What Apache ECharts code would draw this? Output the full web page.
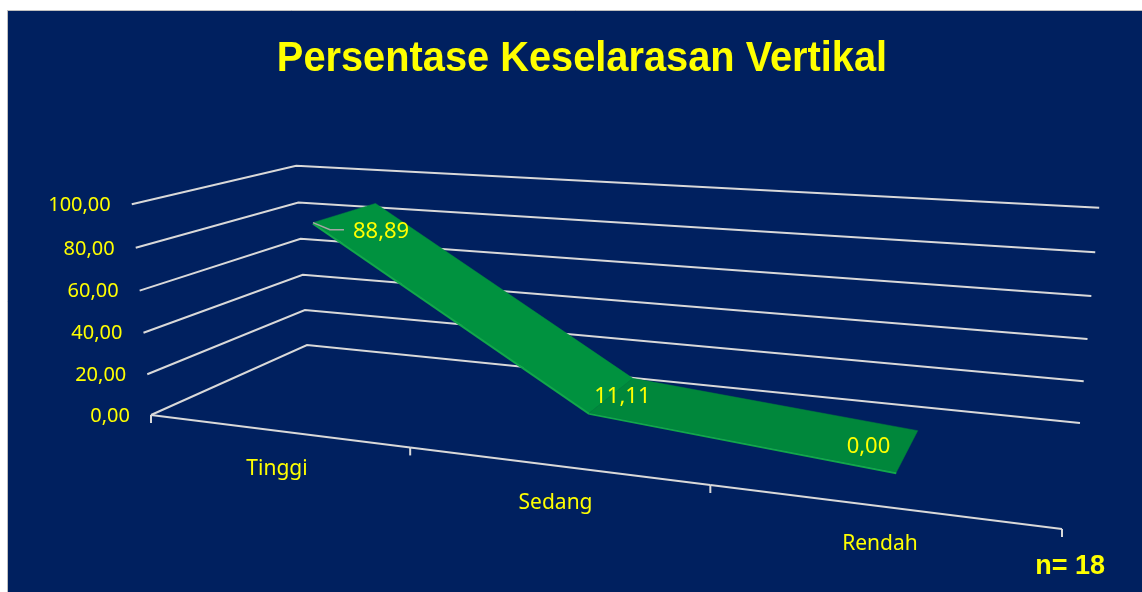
<!DOCTYPE html>
<html>
<head>
<meta charset="utf-8">
<title>Persentase Keselarasan Vertikal</title>
<script src="https://cdn.jsdelivr.net/npm/echarts@6/dist/echarts.min.js"></script>
<style>
  html, body { margin: 0; padding: 0; background: #fff; }
  #main { width: 1142px; height: 592px; }
</style>
</head>
<body>
<div id="main"></div>
<script>
// data
var categories = ['Tinggi', 'Sedang', 'Rendah'];
var values = [88.89, 11.11, 0.00];
var valueLabels = ['88,89', '11,11', '0,00'];
var yTicks = [0, 20, 40, 60, 80, 100];
var yMax = 100;

// perspective frame of the 3d box (screen px): floor corners and wall tops
var FL = [151, 415], FR = [1062, 529], BR = [1080, 423], BL = [307, 345];
var TOP_FL = [131, 204], TOP_BL = [297, 165], TOP_BR = [1099, 209];
// depth of the ribbon (0 = front, 1 = back wall)
var W_FRONT = 0.3, W_BACK = 0.73;

var NAVY = '#00205F';
var YELLOW = '#FFFF00';
var GRIDC = '#D9D9D9';

// square -> quad homography for the floor
function squareToQuad(p0, p1, p2, p3) {
    var dx1 = p1[0] - p2[0], dx2 = p3[0] - p2[0], dx3 = p0[0] - p1[0] + p2[0] - p3[0];
    var dy1 = p1[1] - p2[1], dy2 = p3[1] - p2[1], dy3 = p0[1] - p1[1] + p2[1] - p3[1];
    var den = dx1 * dy2 - dx2 * dy1;
    var g = (dx3 * dy2 - dx2 * dy3) / den;
    var h = (dx1 * dy3 - dx3 * dy1) / den;
    return {
        a: p1[0] - p0[0] + g * p1[0], b: p3[0] - p0[0] + h * p3[0], c: p0[0],
        d: p1[1] - p0[1] + g * p1[1], e: p3[1] - p0[1] + h * p3[1], f: p0[1],
        g: g, h: h
    };
}
var H = squareToQuad(FL, FR, BR, BL);

function floorH(u, w) {
    return [H.a * u + H.b * w + H.c, H.d * u + H.e * w + H.f, H.g * u + H.h * w + 1];
}

// vertical column of the projection, least squares over the three wall tops
var V = (function () {
    var tops = [[0, 0, TOP_FL], [0, 1, TOP_BL], [1, 1, TOP_BR]];
    var M = [[0, 0, 0], [0, 0, 0], [0, 0, 0]], r = [0, 0, 0];
    tops.forEach(function (tp) {
        var f = floorH(tp[0], tp[1]), T = tp[2];
        var rows = [[[1, 0, -T[0]], T[0] * f[2] - f[0]], [[0, 1, -T[1]], T[1] * f[2] - f[1]]];
        rows.forEach(function (row) {
            for (var i = 0; i < 3; i++) {
                for (var j = 0; j < 3; j++) M[i][j] += row[0][i] * row[0][j];
                r[i] += row[0][i] * row[1];
            }
        });
    });
    function det(m) {
        return m[0][0] * (m[1][1] * m[2][2] - m[1][2] * m[2][1])
            - m[0][1] * (m[1][0] * m[2][2] - m[1][2] * m[2][0])
            + m[0][2] * (m[1][0] * m[2][1] - m[1][1] * m[2][0]);
    }
    var D = det(M), out = [];
    for (var k = 0; k < 3; k++) {
        var mk = M.map(function (row, i) { return row.map(function (v, j) { return j === k ? r[i] : v; }); });
        out.push(det(mk) / D);
    }
    return out;
})();

// u: along categories 0..1, w: depth 0..1, t: height 0..1
function project(u, w, t) {
    var f = floorH(u, w);
    var z = f[2] + V[2] * t;
    return [(f[0] + V[0] * t) / z, (f[1] + V[1] * t) / z];
}

// read u / t from the hidden cartesian axes
function toUT(params, api, cat, val) {
    var cs = params.coordSys;
    var p = api.coord([cat, val]);
    return [(p[0] - cs.x) / cs.width, (cs.y + cs.height - p[1]) / cs.height];
}

var segments = [];
for (var i = 0; i < values.length - 1; i++) {
    segments.push([i, values[i], i + 1, values[i + 1]]);
}

var myChart = echarts.init(document.getElementById('main'));

var option = {
    backgroundColor: '#ffffff',
    animation: false,
    graphic: [
        {
            type: 'rect', z: -10,
            shape: { x: 7.5, y: 10.5, width: 1140, height: 590 },
            style: { fill: NAVY, stroke: '#BFBFBF', lineWidth: 1 }
        },
        {
            type: 'text', z: 10, x: 582, y: 59, scaleX: 0.925,
            style: {
                text: 'Persentase Keselarasan Vertikal',
                fill: YELLOW, font: 'bold 43px "Liberation Sans", Arial, sans-serif',
                textAlign: 'center', textVerticalAlign: 'middle'
            }
        },
        {
            type: 'text', z: 10, x: 1105, y: 567,
            style: {
                text: 'n= 18',
                fill: YELLOW, font: 'bold 27px "Liberation Sans", Arial, sans-serif',
                textAlign: 'right', textVerticalAlign: 'middle'
            }
        }
    ],
    grid: { left: 0, right: 0, top: 0, bottom: 0 },
    xAxis: { type: 'category', data: categories, show: false },
    yAxis: { type: 'value', min: 0, max: yMax, interval: 20, show: false },
    series: [
        {
            // value gridlines on the side and back walls, with tick labels
            type: 'custom', z: 1, silent: true,
            data: yTicks.map(function (v) { return [0, v]; }),
            renderItem: function (params, api) {
                var t = toUT(params, api, 0, api.value(1))[1];
                var a = project(0, 0, t), b = project(0, 1, t), c = project(1, 1, t);
                return {
                    type: 'group',
                    children: [
                        { type: 'polyline', shape: { points: [a, b, c] }, style: { stroke: GRIDC, lineWidth: 2, fill: null } },
                        {
                            type: 'text', x: a[0] - 21, y: a[1] + 1,
                            style: {
                                text: api.value(1).toFixed(2).replace('.', ','),
                                fill: YELLOW, font: '20px "Noto Sans", sans-serif',
                                textAlign: 'right', textVerticalAlign: 'middle'
                            }
                        }
                    ]
                };
            }
        },
        {
            // category axis along the front edge of the floor
            type: 'custom', z: 1, silent: true,
            data: categories.map(function (c, i) { return [i, 0]; }),
            renderItem: function (params, api) {
                var i = api.value(0);
                var uc = toUT(params, api, i, 0)[0];
                var half = api.size([1, 0])[0] / params.coordSys.width / 2;
                var p0 = project(uc - half, 0, 0), p1 = project(uc + half, 0, 0), pc = project(uc, 0, 0);
                var kids = [
                    { type: 'line', shape: { x1: p0[0], y1: p0[1], x2: p1[0], y2: p1[1] }, style: { stroke: GRIDC, lineWidth: 2 } },
                    { type: 'line', shape: { x1: p0[0], y1: p0[1], x2: p0[0], y2: p0[1] + 8 }, style: { stroke: GRIDC, lineWidth: 2 } },
                    {
                        type: 'text', x: pc[0] + 1, y: pc[1] + 38,
                        style: {
                            text: categories[i], fill: YELLOW, font: '21px "Noto Sans", sans-serif',
                            textAlign: 'center', textVerticalAlign: 'middle'
                        }
                    }
                ];
                if (i === categories.length - 1) {
                    kids.push({ type: 'line', shape: { x1: p1[0], y1: p1[1], x2: p1[0], y2: p1[1] + 8 }, style: { stroke: GRIDC, lineWidth: 2 } });
                }
                return { type: 'group', children: kids };
            }
        },
        {
            // 3d ribbon of the line series
            type: 'custom', z: 3, silent: true,
            data: segments,
            renderItem: function (params, api) {
                var a = toUT(params, api, api.value(0), api.value(1));
                var b = toUT(params, api, api.value(2), api.value(3));
                var af = project(a[0], W_FRONT, a[1]), ab = project(a[0], W_BACK, a[1]);
                var bf = project(b[0], W_FRONT, b[1]), bb = project(b[0], W_BACK, b[1]);
                var fill = params.dataIndex === 0 ? '#00923F' : '#00873B';
                return {
                    type: 'group',
                    children: [
                        { type: 'polygon', shape: { points: [af, bf, bb, ab] }, style: { fill: fill, stroke: fill, lineWidth: 0.5 } },
                        { type: 'line', shape: { x1: af[0], y1: af[1] + 1, x2: bf[0], y2: bf[1] + 1 }, style: { stroke: '#12A84A', lineWidth: 2 } }
                    ]
                };
            }
        },
        {
            // data labels
            type: 'custom', z: 4, silent: true,
            data: values.map(function (v, i) { return [i, v]; }),
            renderItem: function (params, api) {
                var i = api.value(0);
                var p = toUT(params, api, i, api.value(1));
                var f = project(p[0], W_FRONT, p[1]);
                var offs = [[40, 9, 'left'], [5, -16, 'left'], [-6, -26, 'right']][i];
                var kids = [{
                    type: 'text', x: f[0] + offs[0], y: f[1] + offs[1],
                    style: {
                        text: valueLabels[i], fill: YELLOW, font: '22px "Noto Sans", sans-serif',
                        textAlign: offs[2], textVerticalAlign: 'middle'
                    }
                }];
                if (i === 0) {
                    kids.push({
                        type: 'polyline',
                        shape: { points: [[f[0], f[1]], [f[0] + 17, f[1] + 7], [f[0] + 31, f[1] + 7]] },
                        style: { stroke: '#A6A6A6', lineWidth: 1.5, fill: null }
                    });
                }
                return { type: 'group', children: kids };
            }
        }
    ]
};
myChart.setOption(option);
</script>
</body>
</html>
